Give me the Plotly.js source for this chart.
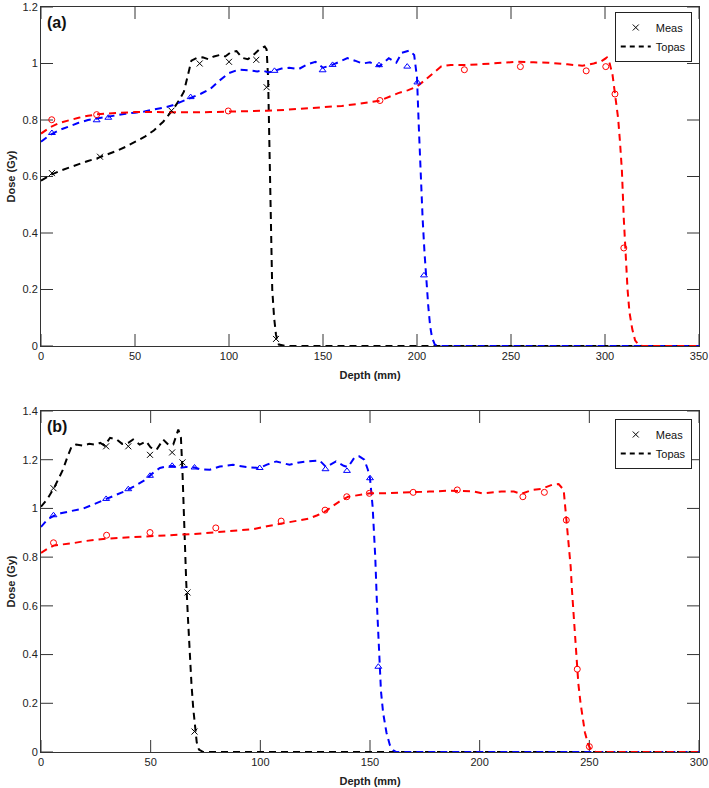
<!DOCTYPE html>
<html>
<head>
<meta charset="utf-8">
<script src="https://cdn.plot.ly/plotly-3.0.1.min.js"></script>
<style>html,body{margin:0;padding:0;background:#fff;}#chart{width:709px;height:788px;}</style>
</head>
<body>
<div id="chart"></div>
<script>
// ---------- Panel (a) : Topas simulation curves ----------
var aTopasBlackX = [0,5,10,15,20,25,30,35,40,45,50,55,60,65,70,73,76,78,80,83,86,89,92,95,98,101,104,107,110,113,116,119,120,120.8,121.3,121.8,122.3,123,124,125,126.5,130,150,200,250,300,350];
var aTopasBlackY = [0.585,0.605,0.62,0.632,0.643,0.655,0.665,0.677,0.69,0.705,0.722,0.74,0.763,0.794,0.835,0.865,0.9,0.95,1.01,1.02,1.022,1.015,1.025,1.03,1.025,1.04,1.044,1.02,1.015,1.03,1.049,1.06,1.05,0.95,0.8,0.6,0.4,0.2,0.1,0.04,0.005,0,0,0,0,0,0];
var aTopasBlueX = [0,5,10,15,20,25,30,35,40,45,50,55,60,65,70,75,80,85,90,95,100,105,110,115,118,121,124,128,132,137,142,146,150,155,160,163,167,171,175,180,185,189,192,196,198.5,200,201,202,203,204,205,206,207,208,209.5,212,250,300,350];
var aTopasBlueY = [0.723,0.748,0.765,0.778,0.79,0.8,0.806,0.812,0.818,0.822,0.826,0.83,0.837,0.843,0.852,0.865,0.878,0.893,0.91,0.94,0.966,0.978,0.976,0.972,0.975,0.968,0.974,0.982,0.985,0.98,0.998,1.006,0.985,0.995,1.01,1.019,1.01,1.0,1.004,0.99,1.019,1.003,1.038,1.046,1.03,0.95,0.77,0.6,0.45,0.33,0.22,0.14,0.07,0.03,0.005,0,0,0,0];
var aTopasRedX = [0,5,10,15,20,25,30,40,50,60,70,80,90,100,110,120,130,140,150,160,170,180,190,195,200,205,209,213,218,222,228,235,245,253,262,270,280,288,294,298,301,302.5,304,305.5,307,308,309,310,311,312,313,314.5,316,318,320,350];
var aTopasRedY = [0.752,0.775,0.79,0.8,0.808,0.815,0.82,0.825,0.828,0.828,0.827,0.827,0.828,0.829,0.83,0.833,0.836,0.84,0.844,0.85,0.858,0.868,0.895,0.905,0.918,0.945,0.968,0.99,0.995,0.994,0.995,0.998,1.003,1.006,1.004,1.003,0.997,0.992,1.0,1.008,1.021,1.0,0.96,0.89,0.805,0.72,0.62,0.45,0.32,0.2,0.12,0.06,0.02,0.003,0,0];

// ---------- Panel (a) : measurements ----------
var aMeasBlackX = [5.8,31.4,69.4,84.4,100,114.5,120,125];
var aMeasBlackY = [0.612,0.67,0.833,1.0,1.006,1.013,0.916,0.025];
var aMeasBlueX = [5.8,29.6,35.8,79.6,124.2,149.8,155.1,179.8,194.8,200.2,203.7];
var aMeasBlueY = [0.754,0.799,0.808,0.881,0.974,0.976,0.995,0.994,0.989,0.933,0.25];
var aMeasRedX = [5.7,29.6,99.6,180.3,225.2,255,290,300.4,305.3,310];
var aMeasRedY = [0.801,0.819,0.832,0.869,0.978,0.989,0.974,0.989,0.892,0.347];

// ---------- Panel (b) : Topas simulation curves ----------
var bTopasBlackX = [0,3,6,8,10,12,14,16,19,22,25,27,29,31.5,34.5,37,40,42,45,48,50,52.7,55.7,58,60.3,62.6,63.8,64.5,65,65.5,66.2,67,67.8,68.6,69.4,70.2,71,72,74,100,150,200,250,300];
var bTopasBlackY = [1.007,1.04,1.085,1.12,1.159,1.21,1.255,1.262,1.258,1.265,1.262,1.269,1.258,1.29,1.283,1.265,1.27,1.283,1.262,1.275,1.25,1.241,1.283,1.262,1.262,1.324,1.29,1.15,1.0,0.85,0.7,0.55,0.4,0.28,0.18,0.1,0.04,0.01,0,0,0,0,0,0];
var bTopasBlueX = [0,3,6,9,12,16,19.4,23,27,30,34.5,38,42,45,48,51,54.2,57.2,60,63.3,66,70,72.4,77,81.5,87.5,93.6,99.7,103,107.3,113.3,117,120.9,127,130,134.5,138,140,143,145.1,147.4,149,150,151.2,152.4,153.2,154,155,156,157.5,159,160.5,162,200,250,300];
var bTopasBlueY = [0.924,0.955,0.97,0.98,0.986,0.993,1.0,1.013,1.028,1.04,1.055,1.07,1.088,1.103,1.12,1.145,1.166,1.172,1.174,1.166,1.17,1.168,1.161,1.159,1.172,1.179,1.17,1.166,1.18,1.193,1.179,1.188,1.193,1.197,1.17,1.193,1.175,1.17,1.21,1.214,1.2,1.16,1.124,1.007,0.8,0.6,0.42,0.25,0.16,0.08,0.03,0.008,0,0,0,0];
var bTopasRedX = [0,3,6,10,15,20,25,30,35,42,50,57,63,70,77,83,90,97,103,110,118,122,126,130,133,136,140,145,150,155,160,165,170,177,186,190,193.6,197,201,205,210,215.6,219,223.9,228,233,236,238.3,239.5,240.6,241.5,242.1,243,244,245,246,247,248,249.5,251,253,300];
var bTopasRedY = [0.817,0.835,0.848,0.852,0.858,0.866,0.872,0.876,0.879,0.883,0.886,0.889,0.892,0.895,0.9,0.905,0.908,0.915,0.927,0.938,0.949,0.958,0.972,0.99,1.01,1.028,1.048,1.055,1.062,1.062,1.063,1.065,1.066,1.069,1.073,1.073,1.072,1.07,1.062,1.066,1.069,1.069,1.06,1.076,1.08,1.097,1.1,1.076,0.96,0.869,0.76,0.662,0.55,0.4,0.28,0.2,0.13,0.08,0.03,0.005,0,0];

// ---------- Panel (b) : measurements ----------
var bMeasBlackX = [5.7,29.7,39.8,49.7,59.8,64.5,66.8,70];
var bMeasBlackY = [1.083,1.255,1.255,1.22,1.23,1.189,0.655,0.084];
var bMeasBlueX = [5.7,29.7,39.8,49.7,59.8,70,99.7,129.7,139.5,150,153.8];
var bMeasBlueY = [0.972,1.039,1.079,1.134,1.175,1.168,1.166,1.161,1.154,1.124,0.35];
var bMeasRedX = [5.7,29.9,49.7,79.7,109.5,129.5,139.4,149.7,169.7,189.8,219.7,229.5,239.5,244.5,250];
var bMeasRedY = [0.859,0.89,0.901,0.92,0.948,0.993,1.048,1.062,1.066,1.076,1.048,1.066,0.952,0.34,0.022];

// ---------- Ticks / labels ----------
var aXTicks = [0,50,100,150,200,250,300,350];
var bXTicks = [0,50,100,150,200,250,300];
var aYTicks = [0,0.2,0.4,0.6,0.8,1,1.2];
var bYTicks = [0,0.2,0.4,0.6,0.8,1,1.2,1.4];
var legendNames = ['Meas','Topas'];
var panelLabels = ['(a)','(b)'];
var xTitle = 'Depth (mm)';
var yTitle = 'Dose (Gy)';

var BLACK = 'rgb(0,0,0)', BLUE = 'rgb(0,0,255)', RED = 'rgb(255,0,0)';
var DASH = '7px,5px';
var FONT = 'Liberation Sans, Arial, sans-serif';
var AXC = '#333333';
var TICKPX = 12;
var W = 709, H = 788, ML = 41, MR = 10, MT = 7, MB = 36;
var plotH = H - MT - MB, plotW = W - ML - MR;
function dom(top, bot) { return [(H - MB - bot) / plotH, (H - MB - top) / plotH]; }
var aDom = dom(7, 346), bDom = dom(411, 752);
var aXR = [0, 350], aYR = [0, 1.2], bXR = [0, 300], bYR = [0, 1.4];

function topas(x, y, color, xa, ya) {
  return {x: x, y: y, type: 'scatter', mode: 'lines', xaxis: xa, yaxis: ya,
    line: {color: color, width: 2, dash: DASH}, showlegend: false, hoverinfo: 'skip'};
}
function meas(x, y, color, sym, xa, ya) {
  return {x: x, y: y, type: 'scatter', mode: 'markers', xaxis: xa, yaxis: ya,
    marker: {color: color, symbol: sym, size: 6, line: {color: color, width: 1}},
    showlegend: false, hoverinfo: 'skip'};
}
// inside tick marks on all four sides, built from the tick arrays in axis units
function tickTrace(xt, yt, xr, yr, domY, xa, ya) {
  var dy = TICKPX * (yr[1] - yr[0]) / ((domY[1] - domY[0]) * plotH);
  var dx = TICKPX * (xr[1] - xr[0]) / plotW;
  var X = [], Y = [];
  xt.forEach(function (v) {
    X.push(v, v, null, v, v, null);
    Y.push(yr[0], yr[0] + dy, null, yr[1], yr[1] - dy, null);
  });
  yt.forEach(function (v) {
    X.push(xr[0], xr[0] + dx, null, xr[1], xr[1] - dx, null);
    Y.push(v, v, null, v, v, null);
  });
  return {x: X, y: Y, type: 'scatter', mode: 'lines', xaxis: xa, yaxis: ya, connectgaps: false,
    line: {color: AXC, width: 1}, showlegend: false, hoverinfo: 'skip'};
}

var traces = [
  tickTrace(aXTicks, aYTicks, aXR, aYR, aDom, 'x', 'y'),
  tickTrace(bXTicks, bYTicks, bXR, bYR, bDom, 'x2', 'y2'),
  topas(aTopasBlackX, aTopasBlackY, BLACK, 'x', 'y'),
  topas(aTopasBlueX, aTopasBlueY, BLUE, 'x', 'y'),
  topas(aTopasRedX, aTopasRedY, RED, 'x', 'y'),
  meas(aMeasBlackX, aMeasBlackY, BLACK, 'x-thin-open', 'x', 'y'),
  meas(aMeasBlueX, aMeasBlueY, BLUE, 'triangle-up-open', 'x', 'y'),
  meas(aMeasRedX, aMeasRedY, RED, 'circle-open', 'x', 'y'),
  topas(bTopasBlackX, bTopasBlackY, BLACK, 'x2', 'y2'),
  topas(bTopasBlueX, bTopasBlueY, BLUE, 'x2', 'y2'),
  topas(bTopasRedX, bTopasRedY, RED, 'x2', 'y2'),
  meas(bMeasBlackX, bMeasBlackY, BLACK, 'x-thin-open', 'x2', 'y2'),
  meas(bMeasBlueX, bMeasBlueY, BLUE, 'triangle-up-open', 'x2', 'y2'),
  meas(bMeasRedX, bMeasRedY, RED, 'circle-open', 'x2', 'y2')
];
// legend entries (one legend per panel)
[['legend','x','y'],['legend2','x2','y2']].forEach(function (L) {
  traces.push({x: [null], y: [null], type: 'scatter', mode: 'markers', name: legendNames[0],
    xaxis: L[1], yaxis: L[2], legend: L[0], showlegend: true,
    marker: {color: BLACK, symbol: 'x-thin-open', size: 6, line: {color: BLACK, width: 1}}});
  traces.push({x: [null], y: [null], type: 'scatter', mode: 'lines', name: legendNames[1],
    xaxis: L[1], yaxis: L[2], legend: L[0], showlegend: true,
    line: {color: BLACK, width: 2, dash: '5px,4px'}});
});

function xaxis(range, tv, anchor) {
  return {range: range, tickmode: 'array', tickvals: tv, ticks: '',
    showline: true, linecolor: AXC, linewidth: 1, mirror: true, showgrid: false, zeroline: false,
    anchor: anchor, domain: [0, 1], ticklabeloverflow: 'allow',
    tickfont: {family: FONT, size: 11, color: '#222'},
    title: {text: '<b>' + xTitle + '</b>', font: {family: FONT, size: 11, color: '#222'}, standoff: 10}};
}
function yaxis(range, tv, anchor, d) {
  return {range: range, tickmode: 'array', tickvals: tv, ticks: '',
    showline: true, linecolor: AXC, linewidth: 1, mirror: true, showgrid: false, zeroline: false,
    anchor: anchor, domain: d, ticklabeloverflow: 'allow',
    tickfont: {family: FONT, size: 11, color: '#222'},
    title: {text: '<b>' + yTitle + '</b>', font: {family: FONT, size: 11, color: '#222'}, standoff: 4}};
}

var legendStyle = function (y) {
  return {x: 0.989, y: y, xanchor: 'right', yanchor: 'top', bgcolor: '#fff',
    bordercolor: '#222', borderwidth: 1, font: {family: FONT, size: 11, color: '#111'},
    itemwidth: 30, tracegroupgap: 0};
};

var layout = {
  width: W, height: H,
  margin: {l: ML, r: MR, t: MT, b: MB},
  paper_bgcolor: '#fff', plot_bgcolor: '#fff',
  font: {family: FONT},
  xaxis: xaxis(aXR, aXTicks, 'y'),
  yaxis: yaxis(aYR, aYTicks, 'x', aDom),
  xaxis2: xaxis(bXR, bXTicks, 'y2'),
  yaxis2: yaxis(bYR, bYTicks, 'x2', bDom),
  legend: legendStyle((H - MB - 12) / plotH),
  legend2: legendStyle((H - MB - 419) / plotH),
  annotations: [
    {text: '<b>' + panelLabels[0] + '</b>', xref: 'x domain', yref: 'y domain', x: 0.006, y: 0.985,
     xanchor: 'left', yanchor: 'top', showarrow: false, font: {family: FONT, size: 16, color: '#111'}},
    {text: '<b>' + panelLabels[1] + '</b>', xref: 'x2 domain', yref: 'y2 domain', x: 0.006, y: 0.985,
     xanchor: 'left', yanchor: 'top', showarrow: false, font: {family: FONT, size: 16, color: '#111'}}
  ]
};

Plotly.newPlot('chart', traces, layout, {staticPlot: true, displayModeBar: false});
</script>
</body>
</html>
